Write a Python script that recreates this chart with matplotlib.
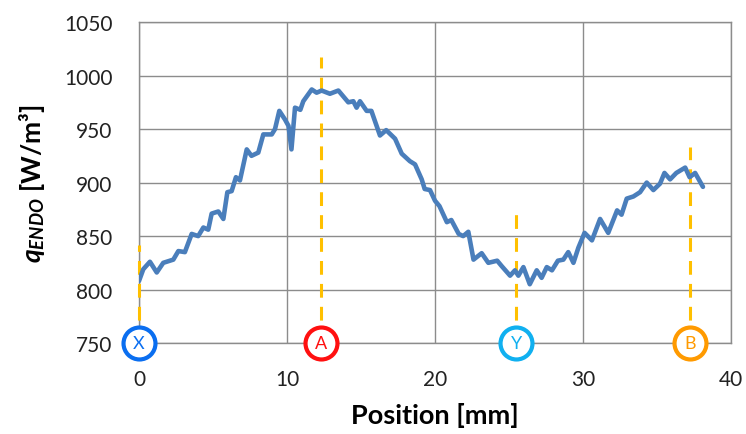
import matplotlib
matplotlib.use('Agg')
import matplotlib.pyplot as plt

plt.rcParams['font.family'] = ['Lato', 'DejaVu Sans']
plt.rcParams['mathtext.fontset'] = 'custom'
plt.rcParams['mathtext.rm'] = 'Lato'
plt.rcParams['mathtext.it'] = 'Lato:italic'
plt.rcParams['mathtext.bf'] = 'Lato:bold'
plt.rcParams['mathtext.bfit'] = 'Lato:bold:italic'

# q_ENDO profile
position = [0.0, 0.29, 0.74, 1.2, 1.64, 2.32, 2.66, 3.1, 3.56, 4.0, 4.35, 4.68,
            4.91, 5.36, 5.7, 5.97, 6.26, 6.55, 6.82, 7.28, 7.6, 8.06, 8.4, 8.97,
            9.19, 9.48, 9.86, 10.1, 10.3, 10.54, 10.9, 11.1, 11.67, 12.0, 12.34,
            12.9, 13.47, 14.14, 14.48, 14.7, 14.93, 15.38, 15.7, 16.28, 16.7,
            17.3, 17.75, 18.3, 18.65, 19.1, 19.3, 19.66, 20.0, 20.3, 20.8, 21.1,
            21.6, 21.9, 22.25, 22.6, 23.15, 23.6, 24.2, 24.5, 25.07, 25.4, 25.63,
            25.97, 26.4, 26.87, 27.2, 27.55, 27.9, 28.3, 28.67, 29.0, 29.35,
            29.68, 30.1, 30.6, 31.15, 31.7, 32.3, 32.6, 32.95, 33.4, 33.85, 34.3,
            34.75, 35.2, 35.5, 35.88, 36.3, 36.9, 37.2, 37.57, 38.1]
q_endo = [808, 819, 826, 816, 825, 828, 836, 835, 852, 850, 858, 856,
          871, 873, 866, 891, 892, 905, 902, 931, 925, 928, 945, 945,
          950, 967, 959, 953, 931, 970, 968, 976, 987, 984, 986,
          983, 986, 975, 976, 970, 976, 967, 967, 944, 949,
          941, 927, 920, 917, 903, 894, 893, 883, 878, 863, 865,
          852, 850, 854, 828, 834, 825, 827, 822, 813, 818, 813,
          821, 805, 818, 811, 821, 818, 827, 828, 835, 825,
          839, 853, 846, 866, 853, 874, 870, 885, 887, 891, 900,
          893, 899, 909, 903, 909, 914, 905, 909, 896]

# reference points: label, position, top of dashed line, colour
point_labels = ['X', 'A', 'Y', 'B']
point_pos = [0.0, 12.3, 25.5, 37.2]
point_top = [842, 1017, 878, 933]
point_colors = ['#0A6EF0', '#FF1010', '#10B0F0', '#FF9A00']

fig = plt.figure(figsize=(7.46, 4.35), dpi=100)
ax = fig.add_axes([0.1863, 0.209, 0.7937, 0.738])

ax.plot(position, q_endo, color='#4A7EBB', linewidth=3.3, zorder=4,
        solid_joinstyle='round', solid_capstyle='round')

for lab, xp, top, col in zip(point_labels, point_pos, point_top, point_colors):
    ax.plot([xp, xp], [750, top], color='#FFC000', linewidth=2.2,
            linestyle=(0, (4.5, 3)), zorder=3, clip_on=False)
    ax.plot(xp, 750, marker='o', markersize=23, markerfacecolor='white',
            markeredgecolor=col, markeredgewidth=3, clip_on=False, zorder=5)
    ax.text(xp, 750, lab, color=col, fontsize=13, ha='center', va='center',
            zorder=6, clip_on=False)

ax.set_xlim(0, 40)
ax.set_ylim(750, 1050)
ax.set_xticks([0, 10, 20, 30, 40])
ax.set_yticks(range(750, 1051, 50))
ax.grid(True, color='#8C8C8C', linewidth=1.0)
ax.set_axisbelow(True)
for s in ax.spines.values():
    s.set_color('#8C8C8C')
    s.set_linewidth(1.0)
ax.tick_params(axis='both', length=0, labelsize=15, colors='#222222')
ax.tick_params(axis='y', pad=19)
ax.tick_params(axis='x', pad=19)

ax.set_xlabel('Position [mm]', fontsize=19.5, fontweight='bold', labelpad=9)
ax.set_ylabel(r'$\mathbfit{q}_{\mathbfit{ENDO}}$ [W/m³]', fontsize=19,
              fontweight='bold', labelpad=12)

fig.savefig('out.png', dpi=100)
